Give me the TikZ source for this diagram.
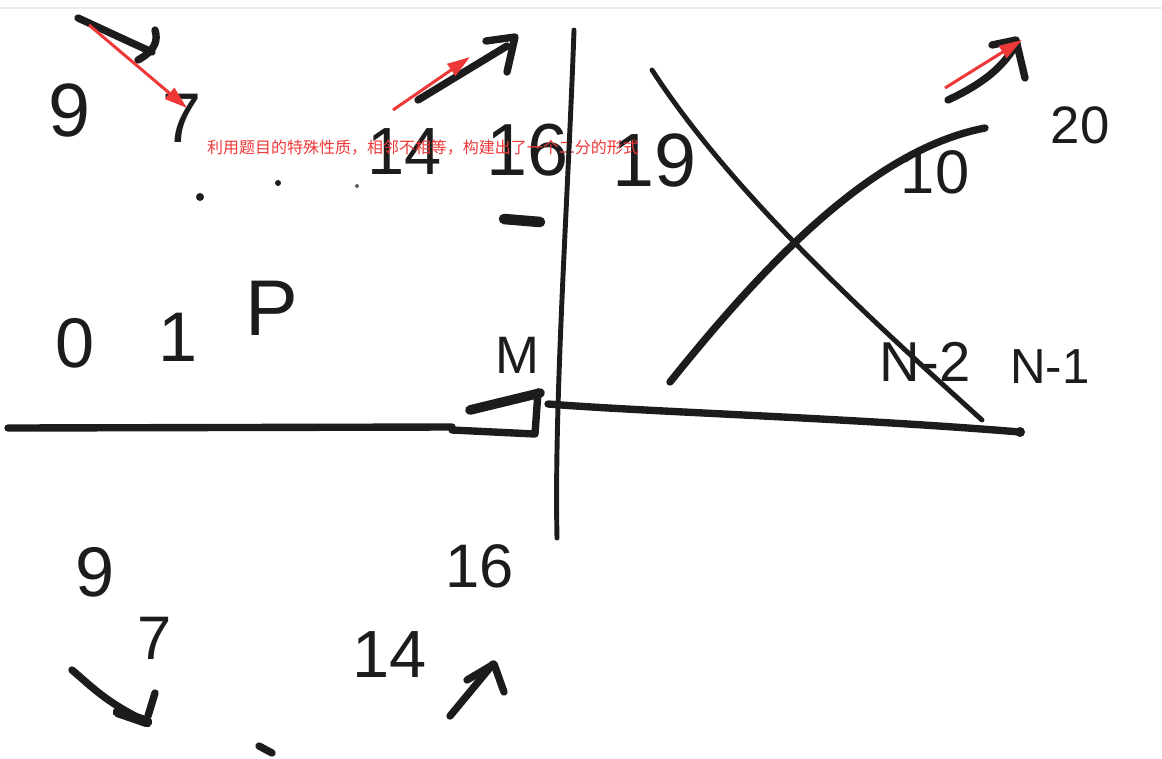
\documentclass[tikz,border=0pt]{standalone}
\usepackage{fontspec}
\setsansfont{Liberation Sans}
\newfontfamily\cjk{Noto Sans CJK SC}
\usetikzlibrary{arrows.meta}
\definecolor{ink}{RGB}{28,28,28}
\definecolor{notered}{RGB}{238,56,56}
\tikzset{
  hand/.style={font=\sffamily\fontsize{#1}{#1}\selectfont, text=ink, inner sep=0pt},
  hand/.default=40,
  stroke/.style={draw=ink, line width=4.2pt, line cap=round, line join=round},
  thinstroke/.style={draw=ink, line width=2.8pt, line cap=round},
  note/.style={draw=notered, line width=1.7pt, -{Triangle[length=13pt,width=8pt]}},
}
\begin{document}
\begin{tikzpicture}[x=0.02cm, y=-0.02cm]
    \useasboundingbox (0,0) rectangle (1162,758);
    \draw[gray!15, line width=0.6pt] (0,8) -- (1162,8);
    % Nodes
    \node [hand=43] (topnine) at (70,110) {9};
    \node [hand=40] (topseven) at (182,118) {7};
    \node [hand=38] (topfourteen) at (405,152) {14};
    \node [hand=42] (topsixteen) at (528,150) {16};
    \node [hand=43] (nineteen) at (655,160) {19};
    \node [hand=35] (ten) at (935,172) {10};
    \node [hand=30] (twenty) at (1080,125) {20};
    \node [hand=40] (zero) at (75,343) {0};
    \node [hand=40] (one) at (178,337) {1};
    \node [hand=45] (pnode) at (272,308) {P};
    \node [hand=30] (mnode) at (517,355) {M};
    \node [hand=32] (ntwo) at (925,362) {N-2};
    \node [hand=28] (none) at (1050,367) {N-1};
    \node [hand=40] (lownine) at (95,572) {9};
    \node [hand=35] (lowseven) at (155,638) {7};
    \node [hand=38] (lowfourteen) at (390,655) {14};
    \node [hand=35] (lowsixteen) at (480,566) {16};
    \node [text=notered, font=\cjk\fontsize{9.1}{11}\selectfont, inner sep=0pt] (remark) at (423,148)
      {利用题目的特殊性质，相邻不相等，构建出了一个二分的形式};
    % Strokes
    \draw[stroke] (78,18) .. controls (100,28) and (125,40) .. (152,52);
    \draw[stroke] (155,30) .. controls (158,40) and (156,50) .. (138,60);
    \fill[ink] (200,197) circle (4);
    \fill[ink] (278,183) circle (3);
    \fill[ink!70] (357,186) circle (2);
    \draw[stroke] (418,100) -- (507,46);
    \draw[stroke] (486,41) -- (515,37) -- (507,72);
    \draw[stroke, line width=6pt] (504,219) -- (540,222);
    \draw[thinstroke] (574,30) .. controls (568,200) and (554,400) .. (557,538);
    \draw[thinstroke] (652,70) .. controls (730,190) and (860,310) .. (982,420);
    \draw[stroke] (670,382) .. controls (760,270) and (870,150) .. (985,128);
    \draw[stroke] (948,100) .. controls (980,85) and (1000,70) .. (1014,48);
    \draw[stroke] (992,45) -- (1016,40) -- (1025,78);
    \draw[stroke] (8,428) -- (452,427);
    \draw[stroke] (452,430) -- (535,434) -- (538,392);
    \draw[stroke, line width=5.5pt] (470,410) -- (540,393);
    \draw[stroke] (548,404) .. controls (650,412) and (850,418) .. (1020,432);
    \fill[ink] (1020,432) circle (5);
    \draw[stroke] (72,670) .. controls (90,685) and (105,702) .. (147,722);
    \draw[stroke, line width=6pt] (118,712) -- (147,722);
    \draw[stroke] (155,693) -- (148,716);
    \draw[stroke] (450,716) -- (493,664);
    \draw[stroke] (467,680) -- (494,664) -- (504,692);
    \draw[stroke] (259,746) -- (272,753);
    % Arrows
    \coordinate (tailA) at (89,25);
    \coordinate (headA) at (187,108);
    \coordinate (tailB) at (393,110);
    \coordinate (headB) at (470,57);
    \coordinate (tailC) at (945,88);
    \coordinate (headC) at (1022,40);
    \draw[note] (tailA) -- (headA);
    \draw[note] (tailB) -- (headB);
    \draw[note] (tailC) -- (headC);
\end{tikzpicture}
\end{document}
